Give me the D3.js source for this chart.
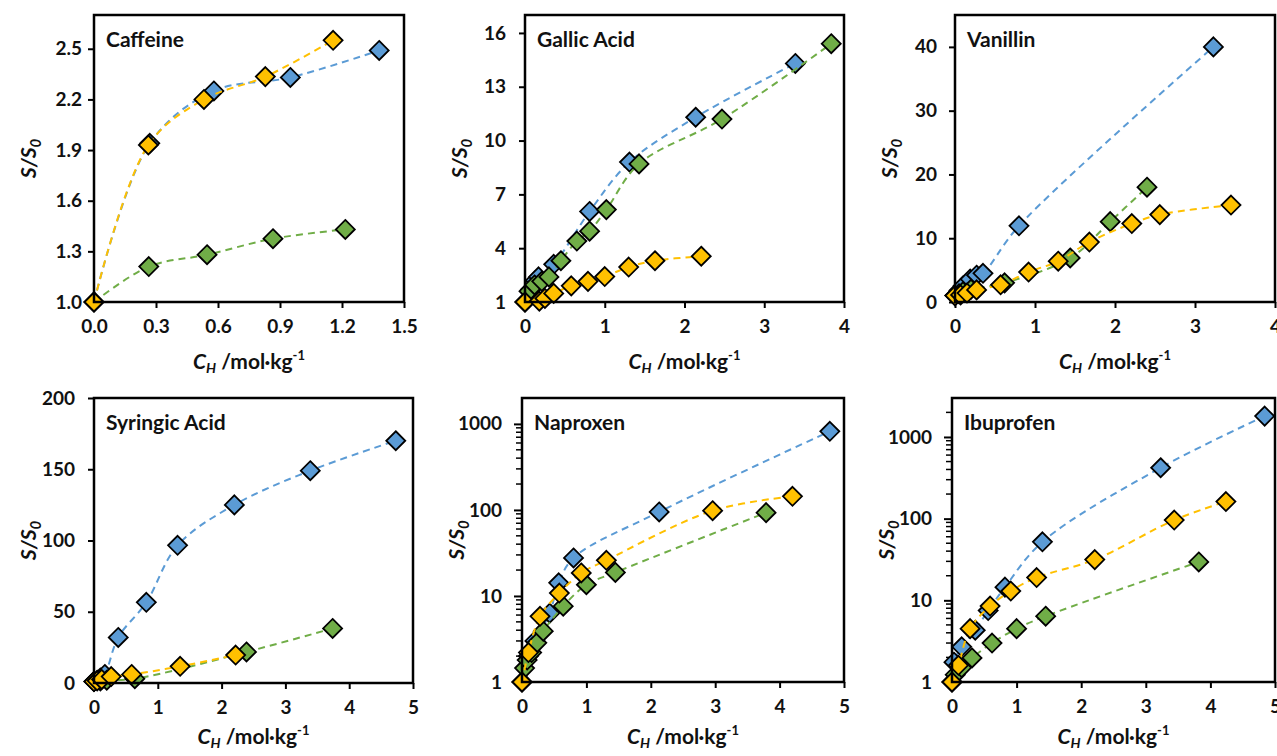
<!DOCTYPE html>
<html><head><meta charset="utf-8">
<script src="https://cdn.jsdelivr.net/npm/d3@7"></script>
<style>
body{margin:0;background:#fff;}
svg{display:block;font-family:Lato,"Open Sans",sans-serif;}
</style></head><body>
<svg id="c" width="1277" height="756"></svg>
<script>
// ---------- DATA ----------
const seriesColors = ["#5B9BD5", "#70AD47", "#FFC000"]; // blue, green, yellow

const caffeineBlue   = [[0,1],[0.27,1.94],[0.58,2.25],[0.95,2.33],[1.38,2.49]];
const caffeineGreen  = [[0,1],[0.265,1.21],[0.547,1.28],[0.866,1.375],[1.216,1.43]];
const caffeineYellow = [[0,1],[0.263,1.93],[0.532,2.20],[0.829,2.335],[1.157,2.55]];

const gallicBlue   = [[0,1],[0.07,1.7],[0.13,2.2],[0.17,2.4],[0.36,3.1],[0.81,6.05],[1.31,8.8],[2.14,11.3],[3.39,14.3]];
const gallicGreen  = [[0,1],[0.05,1.6],[0.12,1.95],[0.21,2.15],[0.30,2.4],[0.45,3.3],[0.65,4.4],[0.81,4.95],[1.02,6.15],[1.43,8.7],[2.47,11.2],[3.84,15.4]];
const gallicYellow = [[0,1],[0.18,1.05],[0.25,1.2],[0.36,1.48],[0.58,1.9],[0.79,2.15],[1.0,2.42],[1.30,2.95],[1.63,3.3],[2.21,3.55]];

const vanillinBlue   = [[0,1],[0.05,1.8],[0.1,2.5],[0.19,3.6],[0.27,4.2],[0.35,4.5],[0.80,11.95],[3.23,40.0]];
const vanillinGreen  = [[0,1],[0.05,1.3],[0.1,1.6],[0.2,2.0],[0.62,3.0],[1.44,6.9],[1.94,12.6],[2.40,18.0]];
const vanillinYellow = [[0,1],[0.07,1.1],[0.15,1.4],[0.27,1.9],[0.57,2.7],[0.92,4.7],[1.29,6.4],[1.68,9.4],[2.21,12.3],[2.56,13.7],[3.45,15.2]];

const syringicBlue   = [[0,1],[0.05,2],[0.1,3.5],[0.17,6],[0.38,32],[0.82,56.6],[1.31,96.6],[2.20,125],[3.39,149],[4.73,170]];
const syringicGreen  = [[0,1],[0.1,1.5],[0.2,2],[0.64,3],[2.39,21.8],[3.74,38.3]];
const syringicYellow = [[0,1],[0.05,1.5],[0.12,2.5],[0.27,4.5],[0.59,6],[1.35,11.7],[2.22,19.6]];

const naproxenBlue   = [[0,1],[0.1,2],[0.2,3],[0.43,6.3],[0.57,14.2],[0.8,27.7],[2.13,94.8],[4.78,820]];
const naproxenGreen  = [[0,1],[0.04,1.45],[0.08,1.8],[0.15,2.2],[0.23,2.85],[0.33,3.9],[0.64,7.6],[1.0,13.5],[1.45,18.8],[3.79,93]];
const naproxenYellow = [[0,1],[0.1,2.2],[0.28,5.8],[0.58,10.8],[0.92,18.5],[1.31,26],[2.96,98],[4.2,144]];

const ibuprofenBlue   = [[0,1],[0.03,1.75],[0.15,2.7],[0.36,4.3],[0.56,7.5],[0.82,14.5],[1.4,52],[3.23,420],[4.84,1800]];
const ibuprofenGreen  = [[0,1],[0.05,1.23],[0.15,1.5],[0.31,1.97],[0.62,3.0],[1.0,4.5],[1.45,6.4],[3.82,29.5]];
const ibuprofenYellow = [[0,1],[0.1,1.6],[0.28,4.5],[0.59,8.5],[0.91,13],[1.31,19],[2.21,31.5],[3.44,96],[4.24,162]];

const panelTitles = ["Caffeine","Gallic Acid","Vanillin","Syringic Acid","Naproxen","Ibuprofen"];

const caffeineXTicks = [0,0.3,0.6,0.9,1.2,1.5];
const caffeineYTicks = [1.0,1.3,1.6,1.9,2.2,2.5];
const gallicXTicks = [0,1,2,3,4];
const gallicYTicks = [1,4,7,10,13,16];
const vanillinXTicks = [0,1,2,3,4];
const vanillinYTicks = [0,10,20,30,40];
const syringicXTicks = [0,1,2,3,4,5];
const syringicYTicks = [0,50,100,150,200];
const naproxenXTicks = [0,1,2,3,4,5];
const naproxenYTicks = [1,10,100,1000];
const ibuprofenXTicks = [0,1,2,3,4,5];
const ibuprofenYTicks = [1,10,100,1000];

const xDomains = [[0,1.5],[0,4],[0,4],[0,5],[0,5],[0,5]];
const yDomains = [[1,2.7],[1,17],[0,45],[0,200],[1,2000],[1,3000]];

// ---------- LAYOUT ----------
const panels = [
  {title:panelTitles[0], series:[caffeineBlue,caffeineGreen,caffeineYellow], xt:caffeineXTicks, yt:caffeineYTicks, xd:xDomains[0], yd:yDomains[0], log:false, xf:d3.format(".1f"), yf:d3.format(".1f"), box:[94,15,404,302], ypad:6, xtOff:67},
  {title:panelTitles[1], series:[gallicBlue,gallicGreen,gallicYellow], xt:gallicXTicks, yt:gallicYTicks, xd:xDomains[1], yd:yDomains[1], log:false, xf:d3.format("d"), yf:d3.format("d"), box:[525,15,844,302], ypad:13, xtOff:67},
  {title:panelTitles[2], series:[vanillinBlue,vanillinGreen,vanillinYellow], xt:vanillinXTicks, yt:vanillinYTicks, xd:xDomains[2], yd:yDomains[2], log:false, xf:d3.format("d"), yf:d3.format("d"), box:[955,15,1275,302], ypad:12, xtOff:67},
  {title:panelTitles[3], series:[syringicBlue,syringicGreen,syringicYellow], xt:syringicXTicks, yt:syringicYTicks, xd:xDomains[3], yd:yDomains[3], log:false, xf:d3.format("d"), yf:d3.format("d"), box:[94,398,413,683], ypad:13, xtOff:61},
  {title:panelTitles[4], series:[naproxenBlue,naproxenGreen,naproxenYellow], xt:naproxenXTicks, yt:naproxenYTicks, xd:xDomains[4], yd:yDomains[4], log:true, xf:d3.format("d"), yf:d3.format("d"), box:[522,398,844,682], ypad:12, xtOff:62},
  {title:panelTitles[5], series:[ibuprofenBlue,ibuprofenGreen,ibuprofenYellow], xt:ibuprofenXTicks, yt:ibuprofenYTicks, xd:xDomains[5], yd:yDomains[5], log:true, xf:d3.format("d"), yf:d3.format("d"), box:[952,398,1275,682], ypad:12, xtOff:62}
];

const svg = d3.select("#c");
const R = 9.5;
const diamond = `M0,${-R}L${R},0L0,${R}L${-R},0Z`;

panels.forEach(p => {
  const [x0,y0,x1,y1] = p.box;
  const g = svg.append("g");
  const x = d3.scaleLinear().domain(p.xd).range([x0,x1]);
  const y = (p.log ? d3.scaleLog() : d3.scaleLinear()).domain(p.yd).range([y1,y0]);

  if (p.log) {
    const minors = [];
    for (let e = 0; e < 4; e++) for (let k = 2; k <= 9; k++) {
      const v = k * Math.pow(10, e);
      if (v < p.yd[1]) minors.push(v);
    }
    g.append("g").selectAll("line").data(minors).join("line")
      .attr("x1", x0 - 6).attr("x2", x0).attr("y1", d => y(d)).attr("y2", d => y(d))
      .attr("stroke", "#000").attr("stroke-width", 1.5);
  }

  const ya = g.append("g").attr("transform", `translate(${x0},0)`)
    .call(d3.axisLeft(y).tickValues(p.yt).tickFormat(p.yf).tickSize(p.log ? 8 : 6).tickPadding(p.ypad));
  const xa = g.append("g").attr("transform", `translate(0,${y1})`)
    .call(d3.axisBottom(x).tickValues(p.xt).tickFormat(p.xf).tickSize(6).tickPadding(12));
  [ya, xa].forEach(a => {
    a.select(".domain").remove();
    a.selectAll("line").attr("stroke", "#000").attr("stroke-width", 2);
    a.selectAll("text").attr("fill", "#111").attr("font-size", 19).attr("font-weight", "bold")
      .attr("font-family", "Lato, 'Open Sans', sans-serif");
  });

  const cid = "clip" + x0 + "_" + y0;
  svg.append("clipPath").attr("id", cid).append("rect")
    .attr("x", x0 - 12).attr("y", y0).attr("width", x1 - x0 + 24).attr("height", y1 - y0 + 12);

  const data = g.append("g").attr("clip-path", `url(#${cid})`);
  const line = d3.line().x(d => x(d[0])).y(d => y(d[1])).curve(d3.curveCatmullRom.alpha(0.5));

  p.series.forEach((s, i) => {
    data.append("path").datum(s).attr("d", line)
      .attr("fill", "none").attr("stroke", seriesColors[i]).attr("stroke-width", 2)
      .attr("stroke-dasharray", "7,5");
    data.append("g").selectAll("path").data(s).join("path")
      .attr("d", diamond)
      .attr("transform", d => `translate(${x(d[0])},${y(d[1])})`)
      .attr("fill", seriesColors[i]).attr("stroke", "#000").attr("stroke-width", 1.8)
      .attr("stroke-linejoin", "miter");
  });

  g.append("rect").attr("x", x0).attr("y", y0).attr("width", x1 - x0).attr("height", y1 - y0)
    .attr("fill", "none").attr("stroke", "#000").attr("stroke-width", 2.5);

  g.append("text").attr("x", x0 + 12).attr("y", y0 + 32)
    .attr("font-size", 21).attr("font-weight", "bold").attr("fill", "#111").text(p.title);

  const yt = g.append("text")
    .attr("transform", `translate(${x0 - 58},${(y0 + y1) / 2}) rotate(-90)`)
    .attr("text-anchor", "middle").attr("font-size", 21).attr("font-weight", "bold").attr("fill", "#111");
  yt.append("tspan").attr("font-style", "italic").text("S/S");
  yt.append("tspan").attr("font-style", "italic").attr("font-size", 15).attr("dy", 5).text("0");

  const xt = g.append("text")
    .attr("x", (x0 + x1) / 2).attr("y", y1 + p.xtOff)
    .attr("text-anchor", "middle").attr("font-size", 21).attr("font-weight", "bold").attr("fill", "#111");
  xt.append("tspan").attr("font-style", "italic").text("C");
  xt.append("tspan").attr("font-style", "italic").attr("font-size", 14).attr("dy", 4).text("H");
  xt.append("tspan").attr("dy", -4).text(" /mol·kg");
  xt.append("tspan").attr("font-size", 13).attr("dy", -9).text("-1");
});
</script>
</body></html>
